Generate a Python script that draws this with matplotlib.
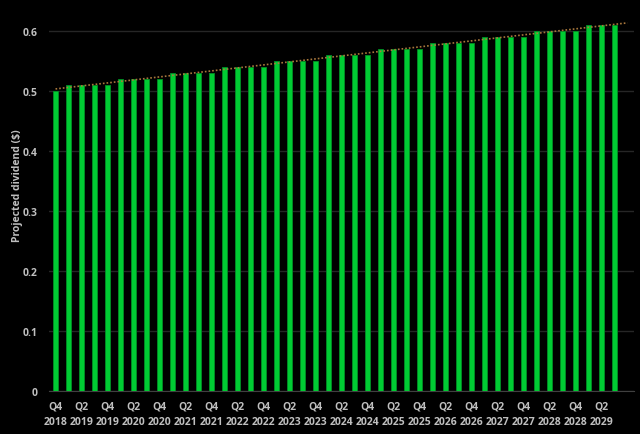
import numpy as np
import matplotlib
matplotlib.use("Agg")
import matplotlib.pyplot as plt

# quarters Q4 2018 .. Q3 2029
quarters = ["Q4 2018"] + [f"Q{q} {y}" for y in range(2019, 2029) for q in range(1, 5)] + ["Q1 2029", "Q2 2029", "Q3 2029"]
dividend = [0.50] + [0.51] * 4 + [0.52] * 4 + [0.53] * 4 + [0.54] * 4 + [0.55] * 4 \
    + [0.56] * 4 + [0.57] * 4 + [0.58] * 4 + [0.59] * 4 + [0.60] * 4 + [0.61] * 3

plt.rcParams["font.family"] = ["Open Sans", "DejaVu Sans"]

fig = plt.figure(figsize=(6.4, 4.35), dpi=100, facecolor="black")
ax = fig.add_axes([0.0766, 0.099, 0.914, 0.896], facecolor="black")

x = np.arange(len(quarters))
ax.bar(x, dividend, width=0.36, color="#00cc33", edgecolor="#008f24", linewidth=0.6, zorder=3)

# linear trendline, forecast one period forward
k, b = np.polyfit(x, dividend, 1)
xt = np.array([0, len(quarters)])
ax.plot(xt, k * xt + b, color="#a8773c", linestyle=(0, (1, 1.2)), linewidth=1.2, zorder=4)

ax.set_xlim(-0.5, len(quarters) + 0.5)
ax.set_ylim(0, 0.65)
ax.set_yticks([0, 0.1, 0.2, 0.3, 0.4, 0.5, 0.6])
ax.set_yticklabels(["0", "0.1", "0.2", "0.3", "0.4", "0.5", "0.6"])
ax.grid(axis="y", color="#262626", linewidth=1, zorder=0)

ticks = x[::2]
ax.set_xticks(ticks)
ax.set_xticklabels([quarters[i].replace(" ", "\n") for i in ticks], linespacing=1.6)

for s in ["top", "right", "left"]:
    ax.spines[s].set_visible(False)
ax.spines["bottom"].set_color("#404040")
ax.tick_params(length=0, colors="#bfbfbf", labelsize=7.5)
ax.tick_params(axis="y", pad=8)
ax.tick_params(axis="x", pad=7)
for lbl in ax.get_xticklabels() + ax.get_yticklabels():
    lbl.set_fontweight("bold")

ax.set_ylabel("Projected dividend ($)", color="#bfbfbf", fontsize=7.5, fontweight="bold")
ax.yaxis.set_label_coords(-0.045, 0.53)

fig.savefig("out.png", dpi=100, facecolor="black")
